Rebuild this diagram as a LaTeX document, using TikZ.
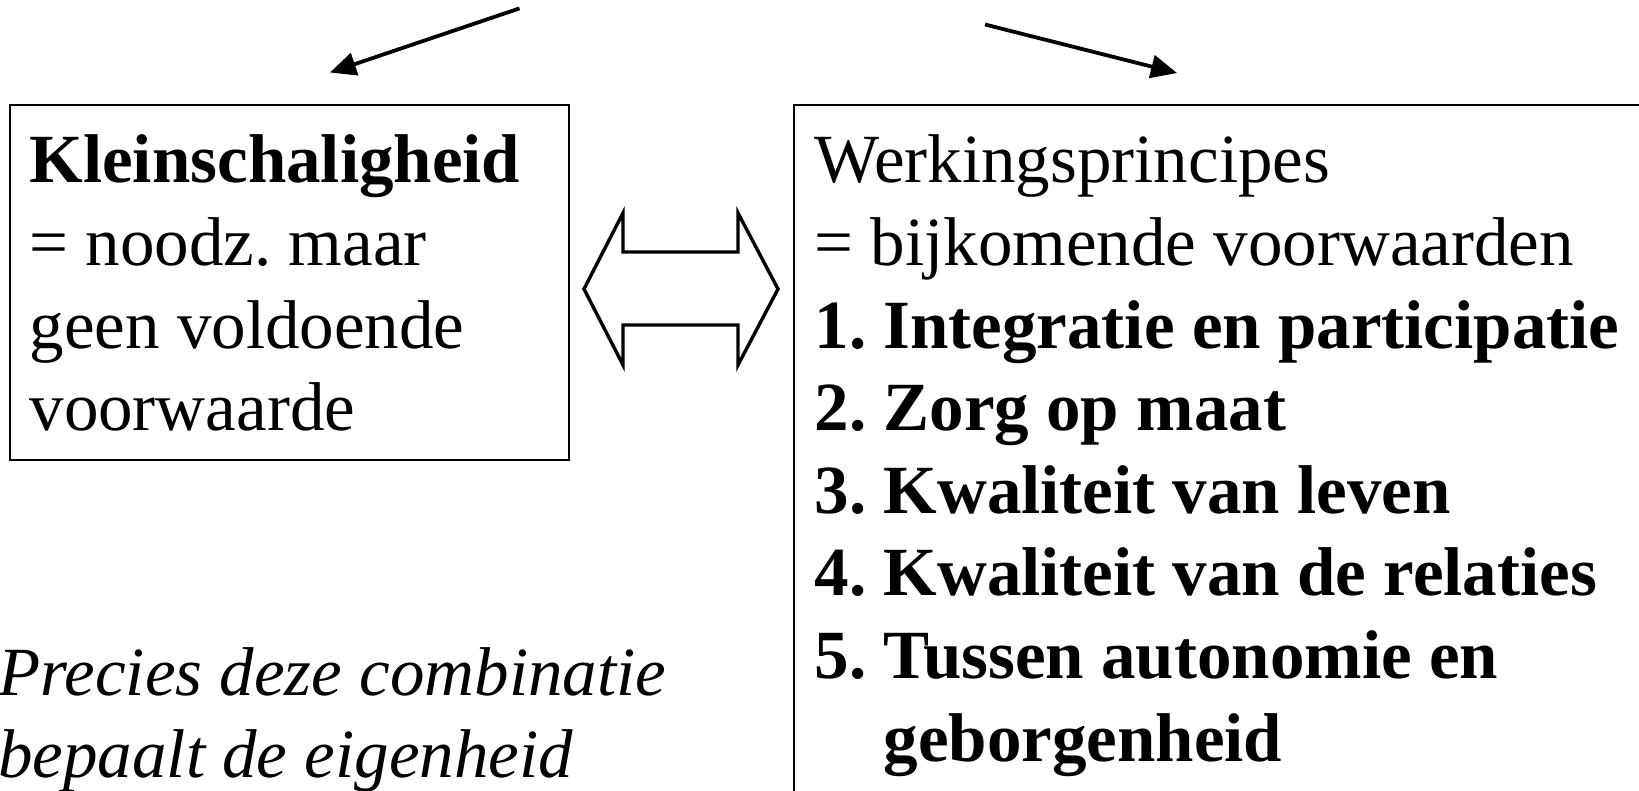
\documentclass[tikz,border=0pt]{standalone}
\usepackage{fontspec}
\setmainfont{Liberation Serif}
\usetikzlibrary{arrows.meta}
\newcommand\myfs{\fontsize{69}{82.6}\selectfont}
\frenchspacing
\tikzset{
  boxframe/.style={draw, line width=1.6pt, inner sep=0pt, anchor=north west},
  txt/.style={anchor=base west, inner sep=0pt},
  ptr/.style={line width=3.8pt, -{Triangle[length=26pt,width=23pt]}},
  dbl/.style={line width=3.4pt, line join=miter}
}
\begin{document}
\begin{tikzpicture}[x=1pt,y=-1pt]
\useasboundingbox (0,0) rectangle (1639,791);
\fill[white] (0,0) rectangle (1639,791);
% boxes
\node[boxframe, minimum width=559pt, minimum height=354.5pt] (klein) at (9.4,104.5) {};
\node[boxframe, minimum width=900pt, minimum height=760pt] (werk) at (793.4,104.5) {};
% texts
\node[txt] (kleintxt) at (29.3,183) {\parbox[t]{620pt}{\myfs\frenchspacing\textbf{Kleinschaligheid}\\= noodz. maar\\geen voldoende\\voorwaarde}};
\node[txt] (werktxt) at (814.3,183) {\parbox[t]{900pt}{\myfs Werkingsprincipes\\= bijkomende voorwaarden\\
\textbf{\makebox[69pt][l]{1.}Integratie en participatie}\\
\textbf{\makebox[69pt][l]{2.}Zorg op maat}\\
\textbf{\makebox[69pt][l]{3.}Kwaliteit van leven}\\
\textbf{\makebox[69pt][l]{4.}Kwaliteit van de relaties}\\
\textbf{\makebox[69pt][l]{5.}Tussen autonomie en}\\
\textbf{\hspace*{69pt}geborgenheid}}};
\node[txt] (precies) at (-2,695) {\parbox[t]{720pt}{\myfs\itshape Precies deze combinatie\\bepaalt de eigenheid}};
% top arrows
\coordinate (a1s) at (519.5,8.4);
\coordinate (a1e) at (330,72.5);
\coordinate (a2s) at (985,24.5);
\coordinate (a2e) at (1177,73);
\draw[ptr] (a1s) -- (a1e);
\draw[ptr] (a2s) -- (a2e);
% double arrow between boxes
\coordinate (dl) at (584,289);
\coordinate (dr) at (778,289);
\draw[dbl] (dl) -- (623,213) -- (623,252) -- (738,252) -- (738,213) -- (dr)
  -- (738,365) -- (738,325) -- (623,325) -- (623,365) -- cycle;
\end{tikzpicture}
\end{document}
